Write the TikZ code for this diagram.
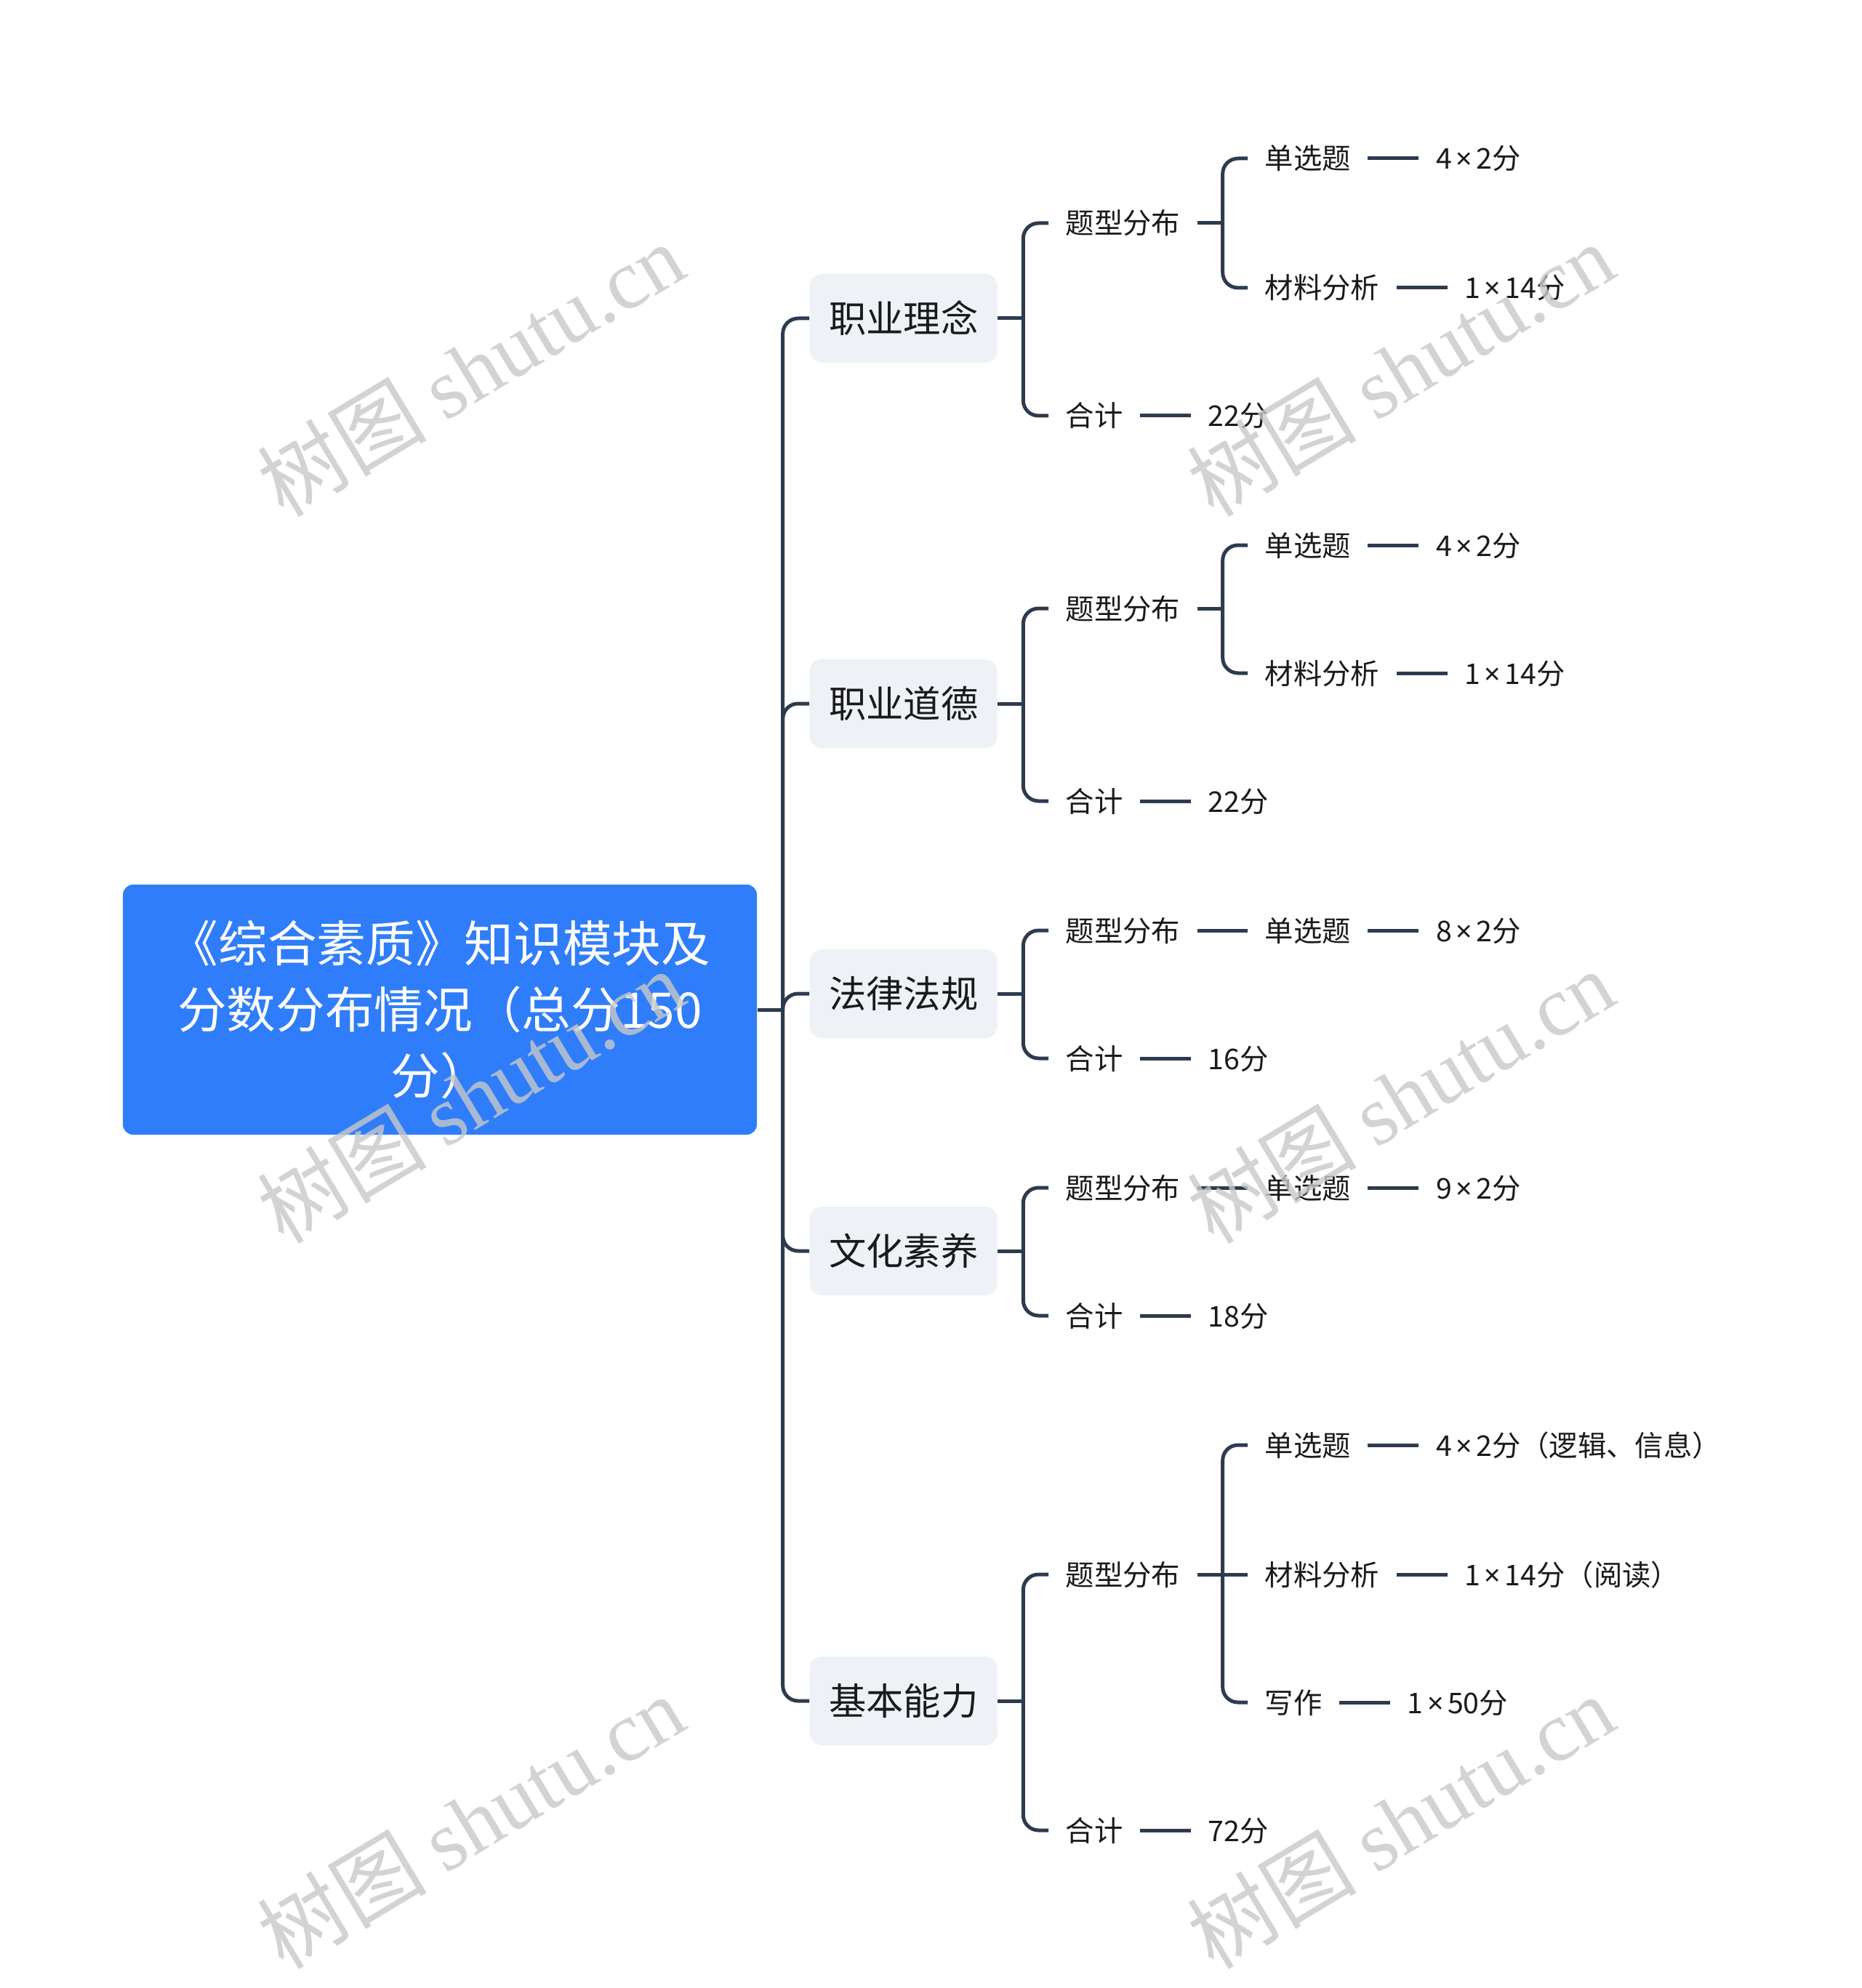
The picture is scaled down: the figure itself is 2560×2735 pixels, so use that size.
\documentclass[tikz,border=0pt]{standalone}
\usepackage{fontspec}
\setmainfont{Noto Sans CJK SC}
\newfontfamily\wmlatin{Liberation Serif}
\newfontfamily\latinf{Noto Sans}
\newcommand{\tms}{\kern0.14em{\latinf ×}\kern0.14em}
\usetikzlibrary{positioning,calc}
\definecolor{rootblue}{HTML}{2F7DFA}
\definecolor{lineclr}{HTML}{2E3B4E}
\definecolor{boxgray}{HTML}{EEF1F5}
\definecolor{txt}{HTML}{1A1A1A}
\definecolor{wm}{HTML}{C8C8C8}
\begin{document}
\begin{tikzpicture}[x=0.3pt,y=-0.3pt,
  line/.style={draw=lineclr,line width=1.5pt},
  conn/.style={draw=lineclr,line width=1.5pt,rounded corners=6.3pt},
  rootbox/.style={fill=rootblue,rounded corners=4.2pt,text=white,minimum width=261.6pt,minimum height=103.2pt,align=center,font=\fontsize{20.3}{27.3}\selectfont,inner sep=0pt},
  l1box/.style={fill=boxgray,rounded corners=5pt,text=txt,minimum width=77.4pt,minimum height=36.6pt,font=\fontsize{15.4}{18}\selectfont,inner sep=0pt,anchor=west,text height=13.5pt,text depth=1.8pt},
  lf/.style={text=txt,font=\fontsize{11.8}{14}\selectfont,inner xsep=6.9pt,inner ysep=0pt,anchor=west,text height=10.4pt,text depth=1.4pt},
  val/.style={lf,right=21pt of #1},
  wmark/.style={text=wm,opacity=0.8,rotate=31,font=\fontsize{35}{37}\selectfont,inner sep=0pt}
]
\fill[white] (0,0) rectangle (2560,2735);
\useasboundingbox (0,0) rectangle (2560,2735);

% root
\node[rootbox] (root) at (605,1389) {《综合素质》知识模块及\\分数分布情况（总分150\\分）};

% level 1
\node[l1box] (a) at (1113,438) {职业理念};
\node[l1box] (b) at (1113,968) {职业道德};
\node[l1box] (c) at (1113,1367) {法律法规};
\node[l1box] (d) at (1113,1721) {文化素养};
\node[l1box] (e) at (1113,2340) {基本能力};

% level 2
\node[lf] (a1) at (1442,307) {题型分布};
\node[lf] (a2) at (1442,572) {合计};
\node[lf] (b1) at (1442,837) {题型分布};
\node[lf] (b2) at (1442,1102) {合计};
\node[lf] (c1) at (1442,1280) {题型分布};
\node[lf] (c2) at (1442,1456) {合计};
\node[lf] (d1) at (1442,1634) {题型分布};
\node[lf] (d2) at (1442,1810) {合计};
\node[lf] (e1) at (1442,2166) {题型分布};
\node[lf] (e2) at (1442,2518) {合计};

% level 3
\node[lf] (a11) at (1716,218) {单选题};
\node[lf] (a12) at (1716,396) {材料分析};
\node[lf] (b11) at (1716,750) {单选题};
\node[lf] (b12) at (1716,926) {材料分析};
\node[lf] (c11) at (1716,1280) {单选题};
\node[lf] (d11) at (1716,1634) {单选题};
\node[lf] (e11) at (1716,1988) {单选题};
\node[lf] (e12) at (1716,2166) {材料分析};
\node[lf] (e13) at (1716,2342) {写作};

% values
\node[val=a11] (a11v) {4\tms 2分};
\node[val=a12] (a12v) {1\tms 14分};
\node[val=a2] (a2v) {22分};
\node[val=b11] (b11v) {4\tms 2分};
\node[val=b12] (b12v) {1\tms 14分};
\node[val=b2] (b2v) {22分};
\node[val=c11] (c11v) {8\tms 2分};
\node[val=c2] (c2v) {16分};
\node[val=d11] (d11v) {9\tms 2分};
\node[val=d2] (d2v) {18分};
\node[val=e11] (e11v) {4\tms 2分（逻辑、信息）};
\node[val=e12] (e12v) {1\tms 14分（阅读）};
\node[val=e13] (e13v) {1\tms 50分};
\node[val=e2] (e2v) {72分};

% trunk
\coordinate (j0) at ($(root.east)+(35,0)$);
\draw[line] (root.east) -- (j0);
\foreach \n in {a,b,c,d,e} \draw[conn] (j0) |- (\n.west);

% level1 -> level2
\foreach \n in {a,b,c,d,e} {
  \coordinate (j\n) at ($(\n.east)+(35,0)$);
  \draw[line] (\n.east) -- (j\n);
  \draw[conn] (j\n) |- (\n1.west);
  \draw[conn] (j\n) |- (\n2.west);
}

% level2 -> level3
\foreach \n in {a,b} {
  \coordinate (j\n1) at ($(\n1.east)+(35,0)$);
  \draw[line] (\n1.east) -- (j\n1);
  \draw[conn] (j\n1) |- (\n11.west);
  \draw[conn] (j\n1) |- (\n12.west);
}
\draw[line] (c1.east) -- (c11.west);
\draw[line] (d1.east) -- (d11.west);
\coordinate (je1) at ($(e1.east)+(35,0)$);
\draw[line] (e1.east) -- (je1);
\draw[conn] (je1) |- (e11.west);
\draw[conn] (je1) -- (e12.west);
\draw[conn] (je1) |- (e13.west);

% values
\foreach \n in {a11,a12,a2,b11,b12,b2,c11,c2,d11,d2,e11,e12,e13,e2}
  \draw[line] (\n.east) -- (\n v.west);

% watermarks
\foreach \x/\y [count=\i] in {647/508,1926/508,647/1508,1926/1508,647/2506,1926/2506}
  \node[wmark] (wm\i) at (\x,\y) {树图 {\wmlatin shutu.cn}};
\end{tikzpicture}
\end{document}
